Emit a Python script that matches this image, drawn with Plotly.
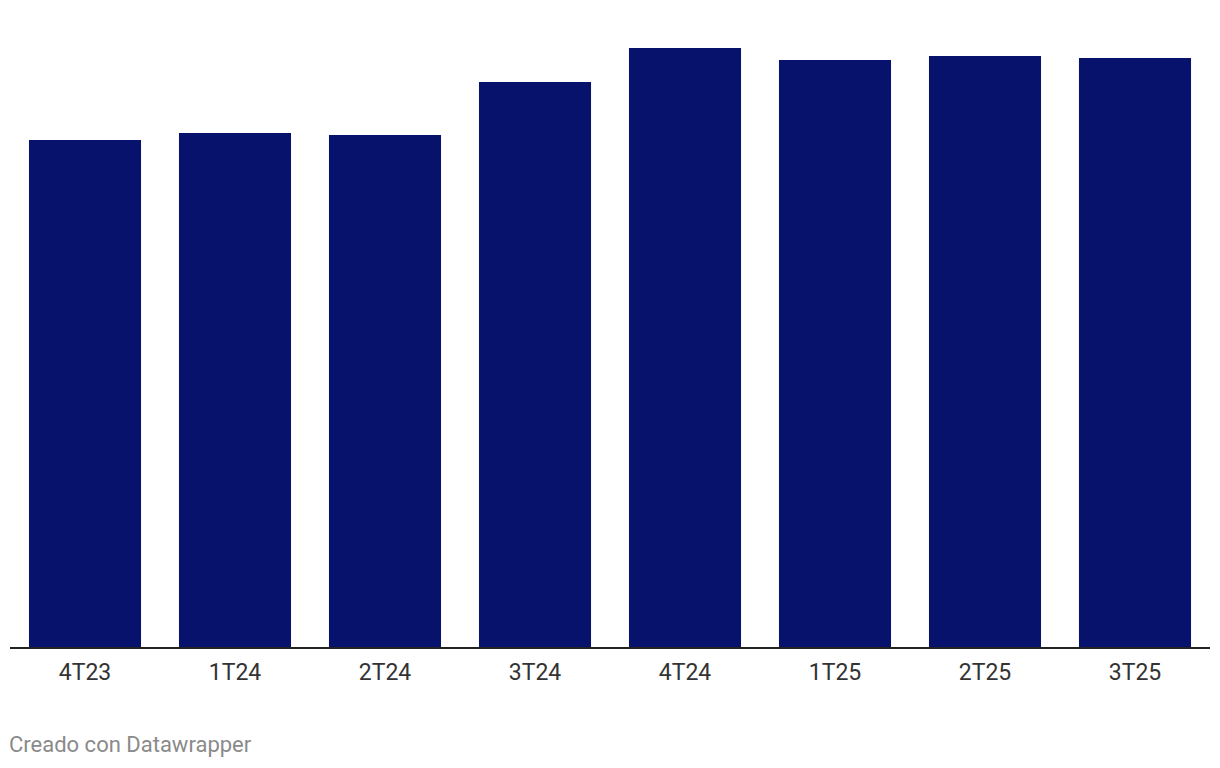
import plotly.graph_objects as go

# trimestres
categorias = ["4T23", "1T24", "2T24", "3T24", "4T24", "1T25", "2T25", "3T25"]
# valores (sin escala visible)
valores = [507, 514, 512, 565, 599, 587, 591, 589]

fig = go.Figure()
fig.add_trace(
    go.Bar(
        x=categorias,
        y=valores,
        marker_color="#06126b",
        marker_line_width=0,
        hoverinfo="x+y",
    )
)

fig.update_xaxes(
    showgrid=False,
    showline=True,
    linecolor="#222222",
    linewidth=2,
    ticks="",
    ticklabelstandoff=3,
    tickfont=dict(family="Roboto", size=23, color="#333333"),
)
fig.update_yaxes(showgrid=False, showticklabels=False, zeroline=False, range=[0, 600])

fig.add_annotation(
    text="Creado con Datawrapper",
    xref="paper",
    yref="paper",
    x=0,
    y=-0.163,
    xanchor="left",
    yanchor="middle",
    xshift=-3,
    showarrow=False,
    font=dict(family="Roboto", size=22, color="#8a8a8a"),
)

fig.update_layout(
    width=1220,
    height=768,
    margin=dict(l=2, r=18, t=39, b=129),
    bargap=0.253,
    plot_bgcolor="white",
    paper_bgcolor="white",
    showlegend=False,
)

fig.write_html("out.html")
